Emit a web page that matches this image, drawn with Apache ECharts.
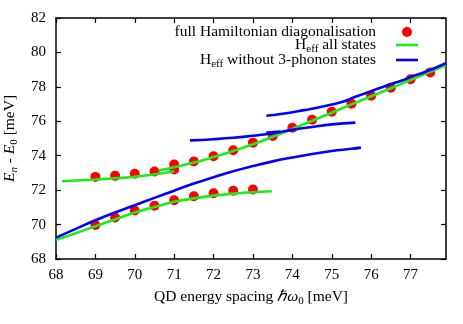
<!DOCTYPE html>
<html>
<head>
<meta charset="utf-8">
<script src="https://cdn.jsdelivr.net/npm/echarts@6/dist/echarts.min.js"></script>
<style>html,body{margin:0;padding:0;background:#fff}#c{width:463px;height:324px}</style>
</head>
<body>
<div id="c"></div>
<script>
// x tick labels and y tick labels
const xTicks = [68, 69, 70, 71, 72, 73, 74, 75, 76, 77];
const yTicks = [68, 70, 72, 74, 76, 78, 80, 82];

// full Hamiltonian diagonalisation (red dots) [x, y]
const dotsLower = [[69,69.98],[69.5,70.41],[70,70.82],[70.5,71.1],[71,71.41],[71.5,71.65],[72,71.82],[72.5,71.96],[73,72.04]];
const dotsUpper = [[69,72.77],[69.5,72.83],[70,72.95],[70.5,73.08],[71,73.2],[71,73.49],[71.5,73.66],[72,73.97],[72.5,74.32],[73,74.76],[73.5,75.15],[74,75.62],[74.5,76.09],[75,76.55],[75.5,77.02],[76,77.48],[76.5,77.95],[77,78.44],[77.5,78.84]];

// H_eff all states (green)
const greenLower = [[68,69.12],[68.5,69.5],[69,69.9],[69.5,70.3],[70,70.7],[70.5,71.02],[71,71.32],[71.5,71.52],[72,71.68],[72.5,71.8],[73,71.88],[73.48,71.94]];
const greenLeft = [[68.15,72.52],[68.5,72.56],[69,72.62],[69.5,72.69],[70,72.78],[70.5,72.92],[71,73.1]];
const greenMain = [[70.6,73.15],[71,73.33],[71.5,73.6],[72,73.92],[72.5,74.28],[73,74.67],[73.5,75.1],[74,75.55],[74.5,76.03],[75,76.5],[75.5,76.98],[76,77.45],[76.5,77.92],[77,78.4],[77.5,78.88],[77.9,79.27]];

// H_eff without 3-phonon states (blue)
const blueLower = [[68,69.24],[68.5,69.75],[69,70.25],[69.5,70.7],[70,71.12],[70.5,71.55],[71,71.97],[71.5,72.38],[72,72.75],[72.5,73.1],[73,73.4],[73.5,73.67],[74,73.9],[74.5,74.1],[75,74.27],[75.5,74.4],[75.74,74.47]];
const blueMiddle = [[71.4,74.89],[72,74.96],[72.5,75.04],[73,75.16],[73.5,75.3],[74,75.5],[74.5,75.67],[75,75.82],[75.6,75.92]];
const blueShort = [[73.34,75.34],[73.7,75.4]];
const blueUpper = [[73.34,76.32],[73.8,76.45],[74.3,76.65],[74.8,76.87],[75.3,77.15],[75.6,77.42],[76,77.75],[76.4,78.08],[76.8,78.38],[77,78.58],[77.3,78.8],[77.9,79.37]];

const nameDots = 'full Hamiltonian diagonalisation';
const nameGreen = 'H_eff all states';
const nameBlue = 'H_eff without 3-phonon states';

const FONT = 'Liberation Serif';
const FS = 15.5;
const RED = '#ff0000', GREEN = '#1aee1a', BLUE = '#0000ff';

const richBase = {
  n: {fontFamily: FONT, fontSize: FS, color: '#000', lineHeight: 20},
  s: {fontFamily: FONT, fontSize: 11, color: '#000', lineHeight: 10, verticalAlign: 'bottom'},
  i: {fontFamily: FONT, fontSize: FS, fontStyle: 'italic', color: '#000', lineHeight: 20},
  si: {fontFamily: FONT, fontSize: 11, fontStyle: 'italic', color: '#000', lineHeight: 10, verticalAlign: 'bottom'},
  gL: {width: 15, lineHeight: 20},
  gD: {width: 21, lineHeight: 20}
};

function legendFmt(name) {
  if (name === nameGreen) return '{n|H}{s|eff}{n| all states}{gL|}';
  if (name === nameBlue) return '{n|H}{s|eff}{n| without 3-phonon states}{gL|}';
  return '{n|' + name + '}{gD|}';
}

function mkLegend(name, top, right, icon, w, h) {
  return {
    data: [name], right: right, top: top, padding: 0, align: 'right', orient: 'vertical',
    icon: icon, itemWidth: w, itemHeight: h, selectedMode: false,
    formatter: legendFmt,
    textStyle: {fontFamily: FONT, fontSize: FS, color: '#000', rich: richBase}
  };
}

function lineSeries(name, data, color) {
  return {name: name, type: 'line', data: data, smooth: true, showSymbol: false, symbol: 'none',
    lineStyle: {color: color, width: 2.6}, itemStyle: {color: color}, xAxisIndex: 0, yAxisIndex: 0, animation: false, z: 3};
}

const axisLine = {show: true, lineStyle: {color: '#000', width: 1.5}};
const tickStyle = {inside: true, length: 5, lineStyle: {color: '#000', width: 1.2}};

const chart = echarts.init(document.getElementById('c'), null, {renderer: 'canvas'});
chart.setOption({
  animation: false,
  backgroundColor: '#fff',
  grid: {left: 56, right: 17, top: 18, bottom: 65, containLabel: false, outerBoundsMode: 'none'},
  legend: [
    mkLegend(nameDots, 24, 51, 'circle', 10, 10),
    mkLegend(nameGreen, 37, 45, 'rect', 22, 2.6),
    mkLegend(nameBlue, 52, 45, 'rect', 22, 2.6)
  ],
  xAxis: [
    {type: 'value', position: 'bottom', min: 68, max: 77.9, interval: 1,
     axisLine: axisLine, splitLine: {show: false},
     axisTick: Object.assign({customValues: xTicks}, tickStyle),
     axisLabel: {customValues: xTicks, fontFamily: FONT, fontSize: 15, color: '#000', margin: 9},
     name: '{n|QD energy spacing }{i|ℏω}{s|0}{n| [meV]}', nameLocation: 'middle', nameGap: 28,
     nameTextStyle: {rich: richBase}},
    {type: 'value', position: 'top', min: 68, max: 77.9, interval: 1,
     axisLine: axisLine, splitLine: {show: false},
     axisTick: Object.assign({customValues: xTicks}, tickStyle),
     axisLabel: {show: false}}
  ],
  yAxis: [
    {type: 'value', position: 'left', min: 68, max: 82, interval: 2,
     axisLine: axisLine, splitLine: {show: false}, axisTick: tickStyle,
     axisLabel: {fontFamily: FONT, fontSize: 15, color: '#000', margin: 10},
     name: '{i|E}{si|n}{n| - }{i|E}{s|0}{n| [meV]}', nameLocation: 'middle', nameGap: 31, nameRotate: 90,
     nameTextStyle: {rich: richBase}},
    {type: 'value', position: 'right', min: 68, max: 82, interval: 2,
     axisLine: axisLine, splitLine: {show: false}, axisTick: tickStyle,
     axisLabel: {show: false}}
  ],
  series: [
    {name: nameDots, type: 'scatter', data: dotsLower.concat(dotsUpper), symbol: 'circle', symbolSize: 10,
     itemStyle: {color: RED, opacity: 1}, z: 2},
    lineSeries(nameGreen, greenLower, GREEN),
    lineSeries(nameGreen, greenLeft, GREEN),
    lineSeries(nameGreen, greenMain, GREEN),
    lineSeries(nameBlue, blueLower, BLUE),
    lineSeries(nameBlue, blueMiddle, BLUE),
    lineSeries(nameBlue, blueShort, BLUE),
    lineSeries(nameBlue, blueUpper, BLUE)
  ]
});
</script>
</body>
</html>
